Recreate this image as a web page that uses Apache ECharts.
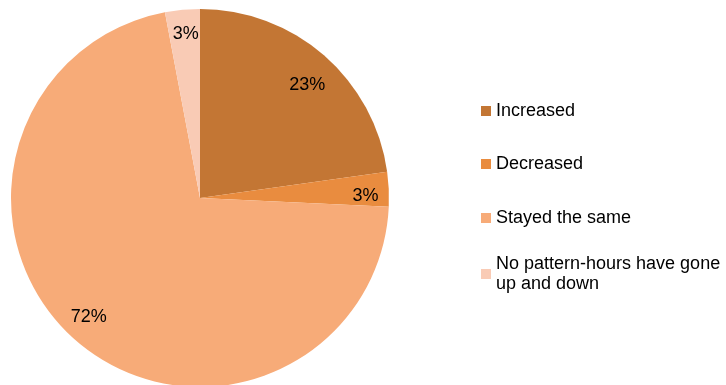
<!DOCTYPE html>
<html>
<head>
<meta charset="utf-8">
<script src="https://cdn.jsdelivr.net/npm/echarts@6/dist/echarts.min.js"></script>
<style>
  html, body { margin: 0; padding: 0; background: #ffffff; }
  #chart { width: 726px; height: 385px; }
</style>
</head>
<body>
<div id="chart"></div>
<script>
// Change in working hours: share of responses
const categories = ['Increased', 'Decreased', 'Stayed the same', 'No pattern-hours have gone up and down'];
const shares = [23, 3, 72, 3];
const sliceColors = ['#C37634', '#E98C3F', '#F7AB78', '#F9CBB5'];
const legendLabels = ['Increased', 'Decreased', 'Stayed the same', 'No pattern-hours have gone\nup and down'];
// Small per-label nudges in px (x right, y down)
const labelNudgeX = [0, 2, -4, 1];
const labelNudgeY = [11, 6, -4, -1];

const FONT = "'Liberation Sans', Arial, sans-serif";
const CENTER = [200, 198];
const RADIUS = 189;

const pieData = categories.map((name, i) => ({
  name,
  value: shares[i],
  itemStyle: { color: sliceColors[i] }
}));

// Label ring: transparent slices whose inside labels sit near the outer rim.
// A blank line above/below the text shifts it vertically by half its lineHeight.
const labelData = categories.map((name, i) => {
  const dx = labelNudgeX[i];
  const dy = labelNudgeY[i];
  return {
    name,
    value: shares[i],
    itemStyle: { color: 'rgba(0,0,0,0)' },
    label: {
      formatter: dy > 0 ? '\n{c}%' : (dy < 0 ? '{c}%\n' : '{c}%'),
      lineHeight: dy !== 0 ? Math.abs(dy) * 2 : 20,
      padding: [0, dx < 0 ? -dx * 2 : 0, 0, dx > 0 ? dx * 2 : 0]
    }
  };
});

// One legend block per entry so each row lands at its own height
const legendTops = [101, 154, 208, 244];
const legends = categories.map((name, i) => {
  const multi = legendLabels[i].indexOf('\n') >= 0;
  return {
    orient: 'vertical',
    left: 481,
    top: legendTops[i],
    padding: 0,
    icon: 'rect',
    itemWidth: 10,
    itemHeight: 10,
    selectedMode: false,
    data: [name],
    formatter: () => legendLabels[i],
    textStyle: {
      fontFamily: FONT,
      fontSize: 18,
      color: '#000000',
      lineHeight: 20,
      padding: multi ? [20, 0, 0, 0] : 0
    }
  };
});

const chart = echarts.init(document.getElementById('chart'), null, { renderer: 'canvas' });
chart.setOption({
  animation: false,
  backgroundColor: '#ffffff',
  legend: legends,
  series: [
    {
      type: 'pie',
      center: CENTER,
      radius: RADIUS,
      startAngle: 90,
      clockwise: true,
      data: pieData,
      label: { show: false },
      labelLine: { show: false },
      emphasis: { disabled: true },
      itemStyle: { borderWidth: 0 }
    },
    {
      type: 'pie',
      center: CENTER,
      radius: [RADIUS * 0.7, RADIUS],
      startAngle: 90,
      clockwise: true,
      silent: true,
      data: labelData,
      label: {
        show: true,
        position: 'inside',
        fontFamily: FONT,
        fontSize: 18,
        color: '#000000'
      },
      labelLine: { show: false },
      emphasis: { disabled: true }
    }
  ]
});
</script>
</body>
</html>
